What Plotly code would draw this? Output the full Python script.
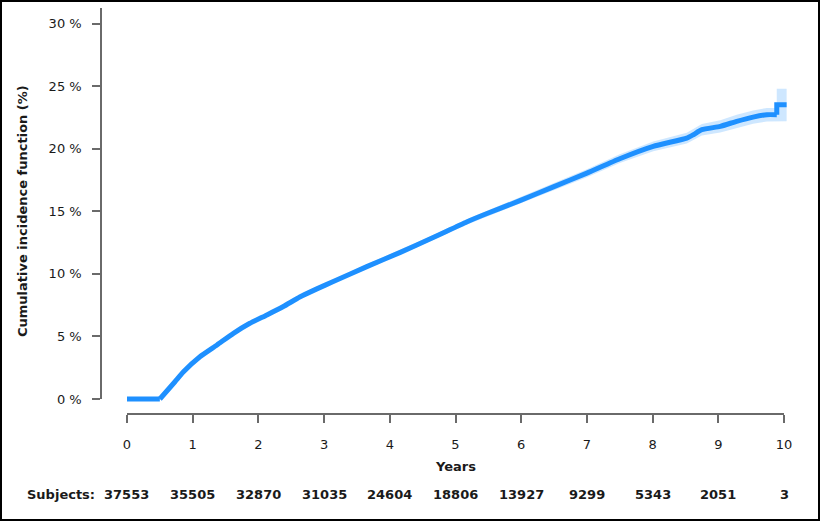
import plotly.graph_objects as go

# ---- data ----
years = [0, 0.50, 0.73, 0.86, 1.11, 1.37, 1.62, 1.87, 2.13, 2.38,
         2.63, 2.89, 3.14, 3.65, 4.16, 4.66, 5.17, 5.47, 5.98, 6.49,
         7.00, 7.50, 8.01, 8.52, 8.62, 8.75, 9.03, 9.28, 9.53, 9.74,
         9.89, 9.89, 10.04]
cif = [0, 0, 1.38, 2.18, 3.38, 4.32, 5.25, 6.05, 6.72, 7.39,
       8.15, 8.80, 9.39, 10.58, 11.72, 12.90, 14.15, 14.80, 15.85, 16.95,
       18.05, 19.20, 20.19, 20.85, 21.12, 21.52, 21.79, 22.19, 22.53, 22.72,
       22.72, 23.52, 23.52]
cif_lower = [0, 0, 1.28, 2.07, 3.26, 4.19, 5.12, 5.92, 6.59, 7.25,
             8.00, 8.64, 9.23, 10.40, 11.53, 12.70, 13.93, 14.56, 15.58, 16.65,
             17.73, 18.85, 19.80, 20.42, 20.68, 21.06, 21.30, 21.67, 22.00, 22.18,
             22.18, 22.20, 22.20]
cif_upper = [0, 0, 1.48, 2.29, 3.50, 4.45, 5.38, 6.18, 6.85, 7.53,
             8.30, 8.96, 9.55, 10.76, 11.91, 13.10, 14.37, 15.04, 16.12, 17.25,
             18.37, 19.55, 20.58, 21.28, 21.56, 21.98, 22.28, 22.71, 23.06, 23.26,
             23.26, 24.80, 24.80]

x_ticks = [0, 1, 2, 3, 4, 5, 6, 7, 8, 9, 10]
y_ticks = [0, 5, 10, 15, 20, 25, 30]
y_tick_labels = ["0 %", "5 %", "10 %", "15 %", "20 %", "25 %", "30 %"]
subjects = [37553, 35505, 32870, 31035, 24604, 18806, 13927, 9299, 5343, 2051, 3]

# ---- layout geometry (pixels) ----
W, H = 821, 521
X0_PX, X10_PX = 127, 784          # year 0 and year 10
Y0_PX, YTOP_PX = 399, 8           # 0 % and top of y axis line
PX_PER_YEAR = (X10_PX - X0_PX) / 10
PX_PER_PCT = (Y0_PX - 23.6) / 30
XAXIS_PX = 414
YAXIS_PX = 101

def px_to_xdata(px):
    return (px - X0_PX) / PX_PER_YEAR

def py_to_ydata(py):
    return (Y0_PX - py) / PX_PER_PCT

FONT = "DejaVu Sans"
BLUE = "#1E90FF"
AXIS_COL = "#6a6a6a"
TXT = "#1a1a1a"

fig = go.Figure()

# confidence band
fig.add_trace(go.Scatter(x=years, y=cif_upper, mode="lines",
                         line=dict(width=0, color=BLUE),
                         showlegend=False, hoverinfo="skip"))
fig.add_trace(go.Scatter(x=years, y=cif_lower, mode="lines",
                         line=dict(width=0, color=BLUE), fill="tonexty",
                         fillcolor="rgba(30,144,255,0.22)",
                         showlegend=False, hoverinfo="skip"))

# CIF curve: flat start, smooth body, final jump
line_style = dict(width=5, color=BLUE)
fig.add_trace(go.Scatter(x=years[0:2], y=cif[0:2], mode="lines",
                         line=line_style, showlegend=False))
fig.add_trace(go.Scatter(x=years[1:31], y=cif[1:31], mode="lines",
                         line=dict(width=5, color=BLUE, shape="spline", smoothing=0.5),
                         showlegend=False))
fig.add_trace(go.Scatter(x=years[30:], y=cif[30:], mode="lines",
                         line=line_style, showlegend=False))

# dummy trace for the detached axes
fig.add_trace(go.Scatter(x=[None], y=[None], xaxis="x2", yaxis="y2",
                         showlegend=False, hoverinfo="skip"))

fig.update_layout(
    template="none",
    width=W, height=H, autosize=False,
    margin=dict(l=0, r=0, t=0, b=0, pad=0, autoexpand=False),
    paper_bgcolor="white", plot_bgcolor="rgba(0,0,0,0)",
    font=dict(family=FONT, size=13, color=TXT),
    showlegend=False,
    xaxis=dict(domain=[0, 1], range=[px_to_xdata(0), px_to_xdata(W)],
               visible=False, fixedrange=True, automargin=False),
    yaxis=dict(domain=[0, 1], range=[py_to_ydata(H), py_to_ydata(0)],
               visible=False, fixedrange=True, automargin=False),
    xaxis2=dict(domain=[X0_PX / W, X10_PX / W], range=[0, 10],
                anchor="free", position=1 - XAXIS_PX / H, automargin=False,
                showline=True, linecolor=AXIS_COL, linewidth=1.5,
                ticks="outside", ticklen=8, tickwidth=1.5, tickcolor=AXIS_COL,
                tickvals=x_ticks, ticktext=[str(v) for v in x_ticks],
                tickfont=dict(family=FONT, size=13, color=TXT),
                ticklabelstandoff=11,
                showgrid=False, zeroline=False, fixedrange=True),
    yaxis2=dict(domain=[1 - Y0_PX / H, 1 - YTOP_PX / H],
                range=[0, py_to_ydata(YTOP_PX)],
                anchor="free", position=YAXIS_PX / W, automargin=False,
                showline=True, linecolor=AXIS_COL, linewidth=1.5,
                ticks="outside", ticklen=8, tickwidth=1.5, tickcolor=AXIS_COL,
                tickvals=y_ticks, ticktext=y_tick_labels,
                tickfont=dict(family=FONT, size=13, color=TXT),
                ticklabelstandoff=8,
                showgrid=False, zeroline=False, fixedrange=True),
)

annotations = [
    dict(text="<b>Cumulative incidence function (%)</b>", textangle=-90,
         xref="paper", yref="paper", x=22 / W, y=1 - 211 / H,
         xanchor="center", yanchor="middle", showarrow=False,
         font=dict(family=FONT, size=13, color=TXT)),
    dict(text="<b>Years</b>", xref="x2", yref="paper", x=5, y=1 - 466 / H,
         xanchor="center", yanchor="middle", showarrow=False,
         font=dict(family=FONT, size=13, color=TXT)),
    dict(text="<b>Subjects:</b>", xref="paper", yref="paper", x=97 / W,
         y=1 - 494 / H, xanchor="right", yanchor="middle", showarrow=False,
         font=dict(family=FONT, size=13, color=TXT)),
]
for yr, n in zip(x_ticks, subjects):
    annotations.append(dict(text=f"<b>{n}</b>", xref="x2", yref="paper",
                            x=yr, y=1 - 494 / H, xanchor="center",
                            yanchor="middle", showarrow=False,
                            font=dict(family=FONT, size=13, color=TXT)))
fig.update_layout(annotations=annotations)

# outer frame
fig.add_shape(type="rect", xref="paper", yref="paper",
              x0=1 / W, x1=819 / W, y0=1 - 520 / H, y1=1 - 1 / H,
              line=dict(color="black", width=2), fillcolor="rgba(0,0,0,0)")

fig.write_html(
    "out.html",
    config={"displayModeBar": False, "responsive": False},
    post_script=(
        "document.body.style.margin='0px';"
        "document.body.style.overflow='hidden';"
    ),
)
